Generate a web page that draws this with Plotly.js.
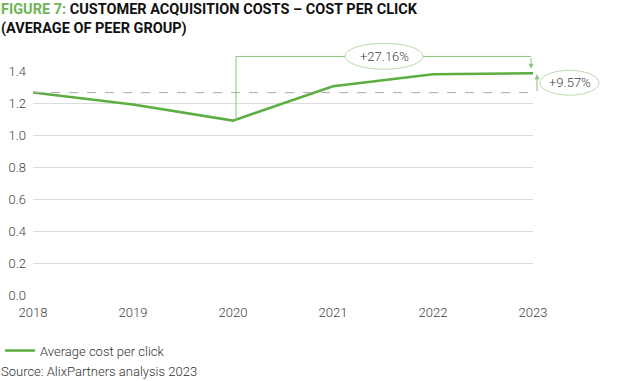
<!DOCTYPE html>
<html>
<head>
<meta charset="utf-8">
<script src="https://cdn.plot.ly/plotly-3.0.1.min.js"></script>
<style>html,body{margin:0;padding:0;background:#fff;}#chart{width:625px;height:381px;}</style>
</head>
<body>
<div id="chart"></div>
<script>
const years = [2018, 2019, 2020, 2021, 2022, 2023];
const costPerClick = [1.265, 1.19, 1.09, 1.305, 1.38, 1.386];
const seriesName = "Average cost per click";
const changeSinceLow = "+27.16%";
const changeSinceStart = "+9.57%";
const yTickVals = [0, 0.2, 0.4, 0.6, 0.8, 1.0, 1.2, 1.4];
const yTickText = ["0.0", "0.2", "0.4", "0.6", "0.8", "1.0", "1.2", "1.4"];

const green = "#5cae40";
const lightGreen = "#8cc47a";
const xMin = years[0], xMax = years[years.length - 1];
const yMax = 1.4;
const px = v => (v - xMin) / (xMax - xMin);
const py = v => v / yMax;

const lowIdx = costPerClick.indexOf(Math.min(...costPerClick));
const last = costPerClick[costPerClick.length - 1];
const first = costPerClick[0];
const bracketTop = 1.065;

const font = {family: "Roboto, sans-serif", size: 13, color: "#444", weight: 300};

const trace = {
  x: years, y: costPerClick, type: "scatter", mode: "lines",
  name: seriesName, line: {color: green, width: 2.5}, hoverinfo: "skip"
};

const shapes = [
  {type: "line", xref: "paper", yref: "y", x0: 0, x1: 1, y0: first, y1: first,
   line: {color: "#aaaaaa", width: 1, dash: "dash"}},
  {type: "line", xref: "paper", yref: "paper", x0: px(years[lowIdx]) + 0.006, x1: px(years[lowIdx]) + 0.006,
   y0: py(costPerClick[lowIdx]), y1: bracketTop, line: {color: lightGreen, width: 1}},
  {type: "line", xref: "paper", yref: "paper", x0: px(years[lowIdx]) + 0.006, x1: 0.996,
   y0: bracketTop, y1: bracketTop, line: {color: lightGreen, width: 1}},
  {type: "circle", xref: "paper", yref: "paper", x0: 0.624, x1: 0.78, y0: 1.008, y1: 1.124,
   fillcolor: "#ffffff", line: {color: "#bcd9ae", width: 1}},
  {type: "circle", xref: "paper", yref: "paper", x0: 1.014, x1: 1.132, y0: 0.892, y1: 1.003,
   fillcolor: "#ffffff", line: {color: "#bcd9ae", width: 1}}
];

const annotations = [
  {xref: "paper", yref: "paper", x: 0.996, y: py(last) + 0.02, ax: 0.996, ay: bracketTop,
   axref: "paper", ayref: "paper", showarrow: true, arrowhead: 2, arrowsize: 1, arrowwidth: 1,
   arrowcolor: lightGreen, text: ""},
  {xref: "paper", yref: "paper", x: 1.008, y: py(last) - 0.005, ax: 1.008, ay: py(first),
   axref: "paper", ayref: "paper", showarrow: true, arrowhead: 2, arrowsize: 1, arrowwidth: 1,
   arrowcolor: lightGreen, text: ""},
  {xref: "paper", yref: "paper", x: 0.702, y: 1.066, text: changeSinceLow, showarrow: false,
   font: font, xanchor: "center", yanchor: "middle"},
  {xref: "paper", yref: "paper", x: 1.073, y: 0.948, text: changeSinceStart, showarrow: false,
   font: font, xanchor: "center", yanchor: "middle"},
  {xref: "paper", yref: "paper", x: -0.068, y: 1.322, xanchor: "left", yanchor: "top", align: "left",
   showarrow: false,
   text: '<span style="color:#6db554">FIGURE 7:</span> <b>CUSTOMER ACQUISITION COSTS – COST PER CLICK<br>(AVERAGE OF PEER GROUP)</b>',
   font: {family: "Roboto, sans-serif", size: 14.5, color: "#111", weight: 700}},
  {xref: "paper", yref: "paper", x: -0.068, y: -0.343, xanchor: "left", yanchor: "middle",
   text: "Source: AlixPartners analysis 2023", showarrow: false,
   font: Object.assign({}, font, {color: "#333"})}
];

const layout = {
  width: 625, height: 381,
  margin: {l: 33, r: 92, t: 71, b: 86},
  paper_bgcolor: "#fff", plot_bgcolor: "#fff",
  font: font,
  xaxis: {
    range: [xMin, xMax], tickvals: years, ticktext: years.map(String),
    showgrid: false, zeroline: false, showline: false, ticks: "",
    ticklabelstandoff: 8, tickfont: font, fixedrange: true
  },
  yaxis: {
    range: [0, yMax], tickvals: yTickVals, ticktext: yTickText,
    showgrid: true, gridcolor: "#dcdcdc", gridwidth: 1, zeroline: false, showline: false,
    ticks: "", ticklabelstandoff: 6, tickfont: font, fixedrange: true
  },
  showlegend: true,
  legend: {
    xref: "container", yref: "container", x: -0.018, y: 0.08, xanchor: "left", yanchor: "middle",
    orientation: "h", font: Object.assign({}, font, {color: "#333"}), bgcolor: "rgba(0,0,0,0)"
  },
  shapes: shapes,
  annotations: annotations
};

Plotly.newPlot("chart", [trace], layout, {displayModeBar: false, staticPlot: true});
</script>
</body>
</html>
